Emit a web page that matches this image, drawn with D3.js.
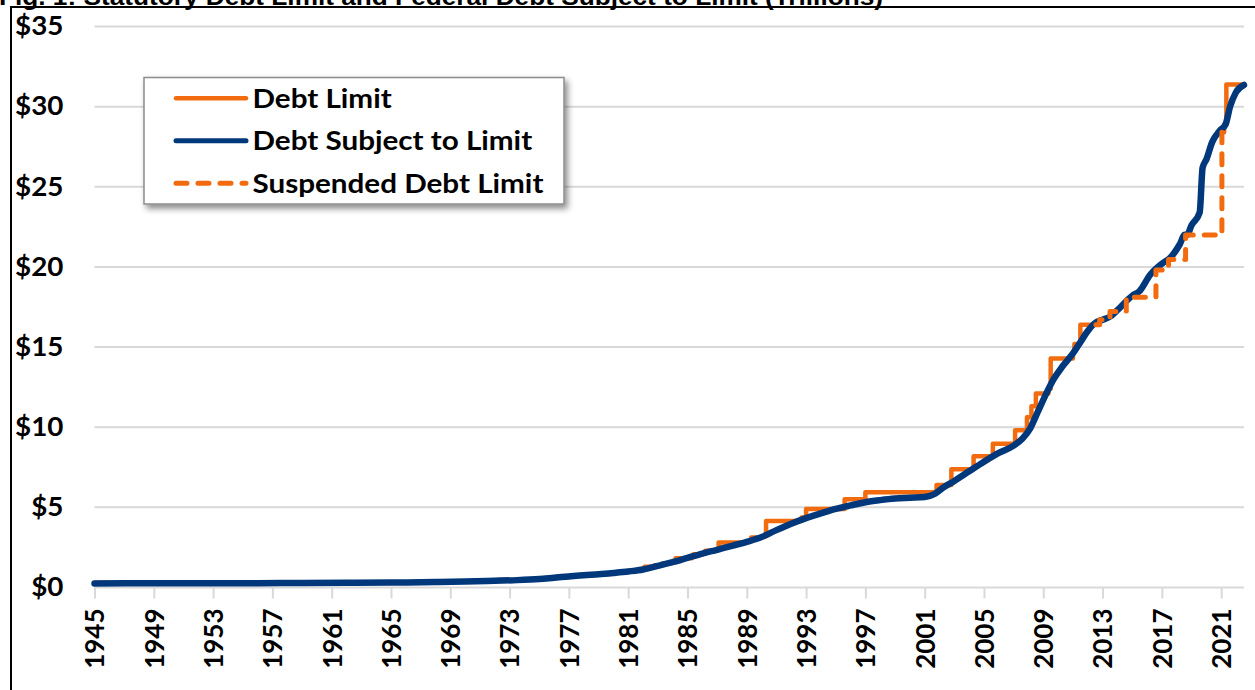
<!DOCTYPE html>
<html>
<head>
<meta charset="utf-8">
<script src="https://cdn.jsdelivr.net/npm/d3@7"></script>
<style>
  html, body { margin: 0; padding: 0; background: #ffffff; overflow: hidden; }
  svg { display: block; }
</style>
</head>
<body>
<svg id="chart" width="1255" height="690"></svg>
<script>
// ---------------- DATA ----------------
const titleText = "Fig. 1: Statutory Debt Limit and Federal Debt Subject to Limit (Trillions)";
const seriesNames = ["Debt Limit", "Debt Subject to Limit", "Suspended Debt Limit"];
const xTickYears = [1945,1949,1953,1957,1961,1965,1969,1973,1977,1981,1985,1989,1993,1997,2001,2005,2009,2013,2017,2021];
const yTickValues = [0,5,10,15,20,25,30,35];
const yTickLabels = ["$0","$5","$10","$15","$20","$25","$30","$35"];
const xDomain = [1945, 2022.54];
const yDomain = [0, 35];

// Statutory debt limit (solid, before first suspension) — step starts (year, $T)
const limitYears = [1945.0,1945.9,1954.0,1957.5,1958.1,1958.9,1959.9,1960.9,1961.6,1961.9,1962.8,1963.0,1963.3,1963.8,1964.9,1965.9,1966.6,1966.9,1968.7,1969.9,1970.6,1971.6,1972.2,1973.3,1973.9,1974.5,1974.9,1975.3,1975.6,1975.9,1976.2,1976.7,1977.2,1978.0,1978.7,1979.1,1979.9,1980.3,1980.5,1981.1,1981.9,1982.1,1982.8,1983.3,1983.8,1983.9,1984.2,1985.3,1985.4,1986.0,1986.2,1986.8,1987.0,1987.1,1989.0,1989.3,1990.0,1990.3,1992.7,1993.0,1995.6,1997.0,2001.8,2002.8,2004.3,2005.6,2007.1,2007.9,2008.2,2008.5,2009.35,2009.5,2011.0,2011.1,2011.5,2012.55];
const limitValues = [0.300,0.275,0.281,0.280,0.288,0.295,0.293,0.298,0.300,0.308,0.305,0.309,0.315,0.324,0.328,0.330,0.336,0.358,0.365,0.395,0.430,0.450,0.465,0.475,0.495,0.531,0.577,0.595,0.627,0.636,0.682,0.700,0.752,0.798,0.830,0.879,0.925,0.935,0.985,1.079,1.143,1.290,1.389,1.490,1.520,1.573,1.824,1.904,2.079,2.111,2.300,2.320,2.352,2.800,2.870,3.123,3.195,4.145,4.370,4.900,5.500,5.950,6.400,7.384,8.184,8.965,9.815,10.615,11.315,12.104,12.394,14.294,14.694,15.194,16.394,16.394];

// Statutory debt limit (solid, after last reinstatement)
const limitLateYears = [2021.05,2021.2,2021.35,2022.54];
const limitLateValues = [28.401,28.881,31.381,31.381];

// Debt limit during suspension periods (dashed)
const suspYears = [2012.55,2012.8,2013.5,2014.6,2016.6,2017.45,2018.6,2021.05];
const suspValues = [16.394,16.699,17.212,18.113,19.809,20.456,21.988,28.401];

// Federal debt subject to limit
const debtYears = [1945.0,1947,1950,1953,1956,1959,1962,1965,1968,1970,1972,1973.5,1975,1976,1977,1978,1979,1980,1981,1982,1983,1984,1985,1986,1987,1988,1989,1990,1991,1992,1993,1994,1995,1996,1997,1998,1999,2000,2001,2001.7,2002.2,2003,2004,2005,2006,2007,2007.6,2008.1,2008.6,2009.2,2009.7,2010.3,2011.0,2011.5,2012,2012.5,2013,2013.5,2014,2015,2015.5,2016.2,2017,2017.6,2018.2,2018.55,2018.7,2019.0,2019.55,2019.75,2020.0,2020.4,2020.9,2021.3,2021.6,2022.0,2022.54];
const debtValues = [0.25,0.26,0.26,0.265,0.27,0.28,0.29,0.31,0.34,0.37,0.42,0.46,0.53,0.61,0.69,0.77,0.83,0.91,1.00,1.12,1.35,1.58,1.85,2.12,2.35,2.60,2.85,3.15,3.58,3.98,4.33,4.62,4.90,5.12,5.32,5.45,5.55,5.60,5.65,5.85,6.20,6.65,7.25,7.85,8.40,8.85,9.30,9.90,10.9,12.1,13.0,13.8,14.6,15.3,16.0,16.5,16.7,16.9,17.3,18.2,18.5,19.5,20.2,20.6,21.4,22.0,22.0,22.6,23.4,26.2,26.7,27.8,28.5,28.9,30.0,30.9,31.35];

// ---------------- STYLE ----------------
const ORANGE = "#F26C0F";
const BLUE = "#00387B";
const GRID = "#d9d9d9";
const FONT = "Lato, 'Open Sans', sans-serif";
const STRETCH = 1.14;   // reference text appears horizontally stretched

const svg = d3.select("#chart");
const margin = {left: 94.5, right: 1244, top: 26.5, bottom: 587.5};

const x = d3.scaleLinear().domain(xDomain).range([margin.left, margin.right]);
const y = d3.scaleLinear().domain(yDomain).range([margin.bottom, margin.top]);

// Outer frame (partially visible)
svg.append("rect")
  .attr("x", 11).attr("y", 7).attr("width", 1400).attr("height", 800)
  .attr("fill", "none").attr("stroke", "#000").attr("stroke-width", 2);

// Title (cut by the top edge, as in the reference)
svg.append("text")
  .attr("transform", `translate(-1,4.5) scale(${STRETCH},1)`)
  .attr("font-family", "'Liberation Sans', Arial, sans-serif")
  .attr("font-weight", "bold").attr("font-size", 23)
  .attr("fill", "#000")
  .text(titleText);

// Gridlines
svg.append("g").selectAll("line").data(yTickValues.filter(v => v > 0)).join("line")
  .attr("x1", margin.left).attr("x2", margin.right)
  .attr("y1", d => y(d)).attr("y2", d => y(d))
  .attr("stroke", GRID).attr("stroke-width", 2);

// Y axis labels
const yAxis = d3.axisLeft(y).tickValues(yTickValues)
  .tickFormat((d, i) => yTickLabels[i]).tickSize(0).tickPadding(0);
const gy = svg.append("g").attr("transform", `translate(${margin.left},0)`).call(yAxis);
gy.select(".domain").remove();
gy.selectAll("text").attr("font-family", FONT).attr("font-weight", 700)
  .attr("font-size", 26).attr("fill", "#000")
  .attr("x", 0)
  .attr("transform", "translate(-31,0) scale(1.07,1)");

// X axis
const xAxis = d3.axisBottom(x).tickValues(xTickYears).tickFormat(d3.format("d"))
  .tickSize(11).tickSizeOuter(0);
const gx = svg.append("g").attr("transform", `translate(0,${margin.bottom})`).call(xAxis);
gx.select(".domain").attr("stroke", GRID).attr("stroke-width", 2)
  .attr("d", `M${margin.left},0H${margin.right}`);
gx.selectAll(".tick line").attr("stroke", GRID).attr("stroke-width", 2);
gx.selectAll(".tick text")
  .attr("font-family", FONT).attr("font-weight", 700).attr("font-size", 26).attr("fill", "#000")
  .attr("text-anchor", "end")
  .attr("transform", "rotate(-90)")
  .attr("x", -21).attr("y", 0).attr("dy", "0.36em");

// Lines
const stepLine = d3.line().x(d => x(d[0])).y(d => y(d[1])).curve(d3.curveStepAfter);
const smoothLine = d3.line().x(d => x(d[0])).y(d => y(d[1])).curve(d3.curveMonotoneX);

const limitData = d3.zip(limitYears, limitValues);
const limitLateData = d3.zip(limitLateYears, limitLateValues);
const suspData = d3.zip(suspYears, suspValues);
const debtData = d3.zip(debtYears, debtValues);

const plot = svg.append("g");
[limitData, limitLateData].forEach(data => {
  plot.append("path").datum(data).attr("d", stepLine)
    .attr("fill", "none").attr("stroke", ORANGE).attr("stroke-width", 4.5)
    .attr("stroke-linejoin", "round").attr("stroke-linecap", "round");
});
plot.append("path").datum(debtData).attr("d", smoothLine)
  .attr("fill", "none").attr("stroke", BLUE).attr("stroke-width", 6.5)
  .attr("stroke-linejoin", "round").attr("stroke-linecap", "round");
plot.append("path").datum(suspData).attr("d", stepLine)
  .attr("fill", "none").attr("stroke", ORANGE).attr("stroke-width", 5)
  .attr("stroke-dasharray", "11,11")
  .attr("stroke-linejoin", "round").attr("stroke-linecap", "round");

// Legend
const defs = svg.append("defs");
const f = defs.append("filter").attr("id", "shadow").attr("x", "-10%").attr("y", "-10%")
  .attr("width", "130%").attr("height", "140%");
f.append("feDropShadow").attr("dx", 3).attr("dy", 4).attr("stdDeviation", 3)
  .attr("flood-color", "#000").attr("flood-opacity", 0.45);

const legend = svg.append("g").attr("transform", "translate(144,77.5)");
legend.append("rect").attr("width", 420).attr("height", 126.5)
  .attr("fill", "#fff").attr("stroke", "#8c8c8c").attr("stroke-width", 1.5)
  .attr("filter", "url(#shadow)");
const legendStyles = [
  {color: ORANGE, width: 4.5, dash: null},
  {color: BLUE, width: 5, dash: null},
  {color: ORANGE, width: 5, dash: "11,11"}
];
const rows = legend.selectAll("g.row").data(seriesNames).join("g")
  .attr("class", "row").attr("transform", (d, i) => `translate(0,${20.8 + i * 42.5})`);
rows.append("line").attr("x1", 32).attr("x2", 102).attr("y1", 0).attr("y2", 0)
  .attr("stroke", (d, i) => legendStyles[i].color)
  .attr("stroke-width", (d, i) => legendStyles[i].width)
  .attr("stroke-linecap", "round")
  .attr("stroke-dasharray", (d, i) => legendStyles[i].dash);
rows.append("text").attr("transform", `translate(108.5,0) scale(${STRETCH},1)`)
  .attr("dy", "0.36em")
  .attr("font-family", FONT).attr("font-weight", 700).attr("font-size", 26).attr("fill", "#000")
  .text(d => d);
</script>
</body>
</html>
